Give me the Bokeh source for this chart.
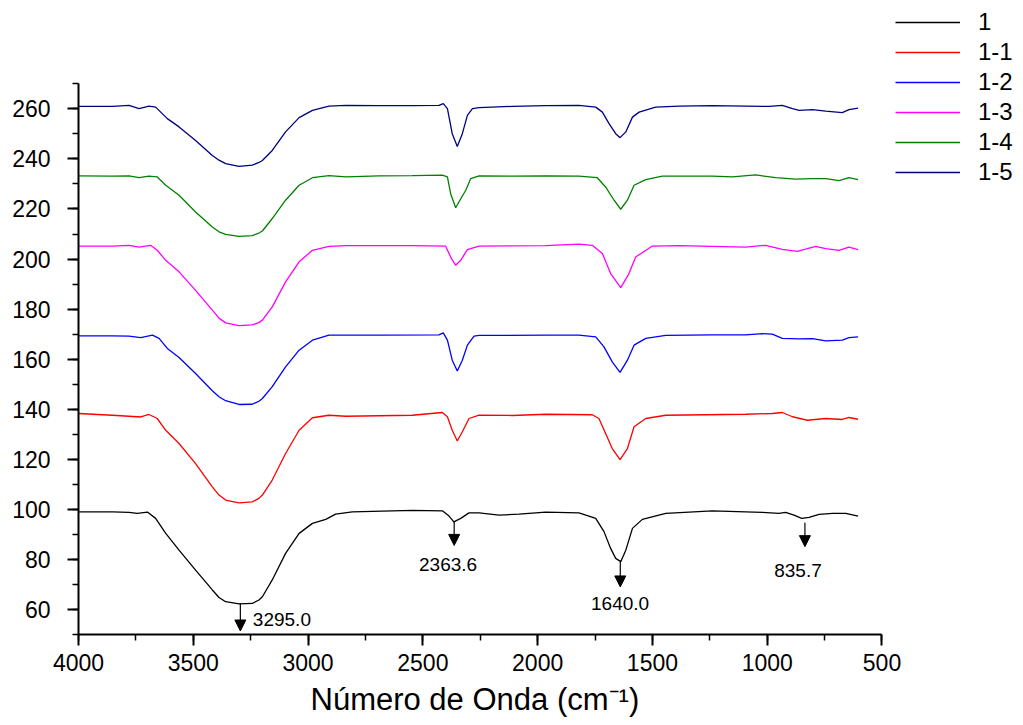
from bokeh.plotting import figure
from bokeh.models import (Range1d, SingleIntervalTicker, Legend, LegendItem,
                          Arrow, NormalHead, ColumnDataSource, Title)
from bokeh.embed import file_html
from bokeh.resources import INLINE
from bokeh.core.properties import value

FONT = "Liberation Sans"

# ---------------- data ----------------
series_names = ["1", "1-1", "1-2", "1-3", "1-4", "1-5"]
series_colors = ["#000000", "#FF0000", "#0000FF", "#FF00FF", "#008000", "#000080"]

wn_1 = [4000, 3853, 3780, 3744, 3700, 3664, 3620, 3562, 3490, 3417, 3388, 3359, 3301, 3243,
        3214, 3199, 3156, 3098, 3039, 2981, 2923, 2880, 2807, 2546, 2415, 2386, 2365, 2335,
        2299, 2255, 2168, 2081, 1965, 1820, 1747, 1711, 1682, 1660, 1638, 1616, 1587, 1544,
        1442, 1239, 1021, 949, 920, 883, 850, 818, 774, 716, 658, 604]
val_1 = [99.0, 99.0, 98.8, 98.4, 98.9, 96.4, 90.4, 83.7, 75.7, 67.8, 64.8, 63.1, 62.2, 62.4,
         63.8, 65.1, 71.8, 82.4, 90.4, 94.4, 96.0, 98.1, 99.0, 99.6, 99.4, 97.3, 95.0, 96.4,
         98.6, 98.6, 97.7, 98.1, 98.9, 98.6, 96.4, 91.1, 84.4, 80.4, 79.1, 83.7, 92.4, 96.0,
         98.4, 99.4, 98.8, 98.4, 98.8, 97.7, 96.4, 96.8, 98.0, 98.4, 98.4, 97.3]

wn_11 = [4000, 3853, 3780, 3729, 3693, 3657, 3620, 3562, 3490, 3417, 3388, 3359, 3301, 3243,
         3214, 3199, 3156, 3098, 3039, 2981, 2909, 2836, 2546, 2415, 2393, 2372, 2350, 2328,
         2299, 2255, 2110, 1965, 1762, 1733, 1704, 1675, 1641, 1609, 1580, 1529, 1442, 1094,
         978, 934, 890, 825, 745, 673, 644, 604]
val_11 = [138.3, 137.6, 137.2, 136.9, 137.9, 136.3, 131.6, 126.3, 118.3, 109.0, 105.7, 103.7,
          102.6, 103.0, 104.4, 105.7, 111.7, 122.3, 131.6, 136.6, 137.6, 137.2, 137.6, 138.7,
          137.0, 131.6, 127.3, 131.0, 136.3, 137.6, 137.5, 138.0, 137.8, 136.3, 130.3, 124.3,
          119.9, 124.3, 133.0, 136.3, 137.6, 138.0, 138.3, 138.7, 137.0, 135.6, 136.3, 135.9,
          136.7, 136.0]

wn_12 = [4000, 3853, 3780, 3729, 3678, 3649, 3613, 3562, 3490, 3417, 3388, 3359, 3301, 3243,
         3214, 3199, 3156, 3098, 3039, 2981, 2909, 2691, 2430, 2411, 2393, 2372, 2350, 2328,
         2306, 2277, 2255, 1965, 1820, 1747, 1711, 1675, 1641, 1609, 1580, 1529, 1442, 1239,
         1094, 1021, 978, 934, 861, 803, 745, 673, 644, 604]
val_12 = [169.3, 169.3, 169.2, 168.6, 169.6, 168.3, 164.3, 160.7, 154.3, 147.4, 145.0, 143.4,
          141.9, 142.0, 143.2, 144.3, 149.0, 156.9, 163.6, 167.6, 169.6, 169.6, 169.7, 170.5,
          167.6, 159.6, 155.3, 159.6, 165.6, 169.2, 169.5, 169.6, 169.6, 168.9, 164.9, 158.9,
          154.7, 159.6, 165.6, 168.3, 169.5, 169.7, 169.7, 170.2, 170.0, 168.3, 168.1, 168.2,
          167.3, 167.6, 168.6, 168.9]

wn_13 = [4000, 3853, 3780, 3736, 3686, 3657, 3620, 3562, 3490, 3417, 3388, 3359, 3301, 3243,
         3214, 3199, 3156, 3098, 3039, 2981, 2909, 2836, 2546, 2401, 2379, 2357, 2335, 2306,
         2255, 1965, 1820, 1762, 1718, 1682, 1638, 1602, 1573, 1500, 1384, 1094, 1007, 934,
         869, 789, 745, 687, 644, 604]
val_13 = [205.2, 205.2, 205.5, 204.8, 205.5, 203.5, 199.5, 194.9, 187.5, 179.6, 176.4, 174.5,
          173.4, 173.7, 174.6, 175.6, 180.9, 190.9, 198.9, 203.5, 205.1, 205.4, 205.4, 205.2,
          200.8, 197.5, 199.5, 203.8, 205.2, 205.4, 206.0, 205.5, 202.2, 194.2, 188.6, 194.2,
          200.8, 205.2, 205.4, 204.8, 205.5, 203.9, 203.1, 205.1, 204.2, 203.5, 204.8, 203.8]

wn_14 = [4000, 3853, 3780, 3736, 3693, 3657, 3620, 3562, 3490, 3417, 3388, 3359, 3301, 3243,
         3214, 3199, 3156, 3098, 3039, 2981, 2909, 2836, 2691, 2546, 2415, 2393, 2379, 2357,
         2335, 2313, 2292, 2255, 2110, 1965, 1820, 1740, 1704, 1667, 1638, 1609, 1580, 1529,
         1457, 1239, 1152, 1050, 963, 876, 803, 745, 687, 644, 604]
val_14 = [233.2, 233.1, 233.2, 232.5, 233.1, 232.8, 229.5, 225.5, 218.8, 212.8, 210.9, 209.9,
          209.1, 209.4, 210.4, 211.2, 216.2, 223.5, 229.5, 232.5, 233.3, 232.8, 233.2, 233.3,
          233.5, 232.8, 226.1, 220.5, 224.1, 227.5, 232.1, 233.2, 233.1, 233.2, 233.1, 232.5,
          228.8, 223.5, 219.9, 223.5, 229.5, 231.7, 233.1, 233.1, 232.8, 233.6, 232.5, 231.9,
          232.1, 232.1, 231.3, 232.5, 231.7]

wn_15 = [4000, 3853, 3780, 3736, 3693, 3664, 3613, 3562, 3490, 3417, 3388, 3359, 3301, 3243,
         3214, 3199, 3156, 3098, 3039, 2981, 2909, 2836, 2691, 2546, 2430, 2411, 2393, 2372,
         2350, 2328, 2306, 2284, 2255, 2110, 1965, 1820, 1747, 1718, 1689, 1660, 1641, 1616,
         1587, 1558, 1486, 1384, 1239, 1094, 992, 934, 890, 861, 803, 745, 673, 644, 604]
val_15 = [261.0, 261.0, 261.4, 260.1, 261.1, 260.7, 256.1, 252.8, 247.4, 241.4, 239.5, 238.1,
          237.0, 237.5, 238.6, 239.4, 243.4, 250.8, 256.5, 259.4, 261.1, 261.4, 261.3, 261.3,
          261.4, 262.1, 260.1, 250.1, 245.0, 250.1, 257.4, 260.1, 260.5, 261.0, 261.3, 261.4,
          260.7, 258.7, 254.1, 250.1, 248.5, 250.8, 256.7, 258.7, 260.7, 261.1, 261.3, 261.1,
          261.0, 261.4, 260.1, 259.4, 259.7, 259.1, 258.5, 259.7, 260.3]

series_wn = [wn_1, wn_11, wn_12, wn_13, wn_14, wn_15]
series_val = [val_1, val_11, val_12, val_13, val_14, val_15]

# peak annotations (series "1")
peak_wn = [3295.0, 2363.6, 1640.0, 835.7]
peak_labels = ["3295.0", "2363.6", "1640.0", "835.7"]

# ---------------- positions / layout ----------------
arrow_top = [62.3, 95.0, 79.0, 94.6]
arrow_tip = [51.4, 85.6, 69.0, 85.1]
label_x = [3114, 2390, 1641, 866]
label_y = [55.8, 77.8, 62.2, 75.4]

p = figure(width=1020, height=722, output_backend="svg", toolbar_location=None,
           x_range=Range1d(4000, -103.3), y_range=Range1d(50, 303.3),
           min_border_left=78, min_border_right=0, min_border_top=0,
           min_border_bottom=87)
p.outline_line_color = None
p.grid.visible = False
p.background_fill_color = "white"
p.border_fill_color = "white"

renderers = []
for wn, val, col in zip(series_wn, series_val, series_colors):
    r = p.line(x=wn, y=val, line_color=col, line_width=1.3)
    renderers.append(r)

for ax in (p.xaxis[0], p.yaxis[0]):
    ax.axis_line_width = 2
    ax.axis_line_color = "black"
    ax.major_tick_in = 0
    ax.major_tick_out = 11
    ax.minor_tick_in = 0
    ax.minor_tick_out = 6
    ax.major_tick_line_width = 2
    ax.minor_tick_line_width = 1.5
    ax.major_tick_line_color = "black"
    ax.minor_tick_line_color = "black"
    ax.major_label_text_font = FONT
    ax.major_label_text_font_size = "23px"
    ax.major_label_text_color = "black"

xa = p.xaxis[0]
xa.bounds = (500, 4000)
xa.ticker = SingleIntervalTicker(interval=500, num_minor_ticks=2)
xa.major_label_standoff = 8

ya = p.yaxis[0]
ya.bounds = (50, 270)
ya.ticker = SingleIntervalTicker(interval=20, num_minor_ticks=2)
ya.major_label_standoff = 17

# x-axis title, left-aligned so that it sits centred under the drawn axis
p.add_layout(Title(text="Número de Onda (cm⁻¹)", align="left", offset=232,
                   text_font=FONT, text_font_size="31px", text_font_style="normal",
                   text_color="black", standoff=12), "below")

# peak arrows and labels
for wx, y0, y1 in zip(peak_wn, arrow_top, arrow_tip):
    p.add_layout(Arrow(end=NormalHead(size=11, fill_color="black", line_color="black",
                                      line_width=1),
                       x_start=wx, y_start=y0, x_end=wx, y_end=y1,
                       line_color="black", line_width=1.2))

lab_src = ColumnDataSource(dict(x=label_x, y=label_y, text=peak_labels))
p.text(x="x", y="y", text="text", source=lab_src, text_font=value(FONT),
       text_font_size="19px", text_align="center", text_baseline="middle",
       text_color="black")

legend = Legend(items=[LegendItem(label=n, renderers=[r])
                       for n, r in zip(series_names, renderers)],
                location=(817, 447.7), padding=0, margin=0, spacing=2,
                glyph_width=65, glyph_height=24, label_height=24,
                label_standoff=18, label_text_font=FONT,
                label_text_font_size="24px", label_text_color="black",
                background_fill_alpha=0, border_line_color=None)
p.add_layout(legend)

open("out.html", "w").write(file_html(p, INLINE))
